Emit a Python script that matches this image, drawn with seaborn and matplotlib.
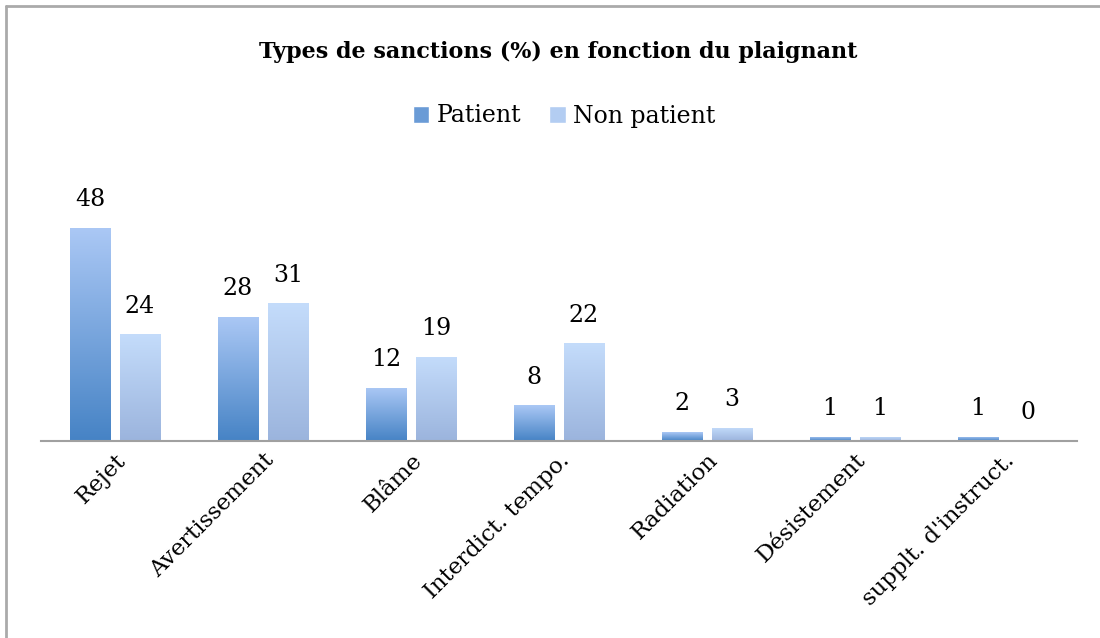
import numpy as np
import pandas as pd
import matplotlib
matplotlib.use("Agg")
import matplotlib.pyplot as plt
import seaborn as sns
from matplotlib.colors import LinearSegmentedColormap
from matplotlib.lines import Line2D
from matplotlib.patches import Patch

categories = ["Rejet", "Avertissement", "Blâme", "Interdict. tempo.",
              "Radiation", "Désistement", "supplt. d'instruct."]
patient = [48, 28, 12, 8, 2, 1, 1]
non_patient = [24, 31, 19, 22, 3, 1, 0]
series = ["Patient", "Non patient"]

df = pd.DataFrame({
    "type": categories * 2,
    "valeur": patient + non_patient,
    "plaignant": [series[0]] * len(categories) + [series[1]] * len(categories),
})

sns.set_style("white")
plt.rcParams["font.family"] = ["DejaVu Serif"]
plt.rcParams["text.color"] = "black"
plt.rcParams["xtick.color"] = "black"

# gradient colours (bottom, top) for each series
grads = [("#4683c5", "#abc8f5"), ("#9bb4dd", "#c4dcfb")]

fig = plt.figure(figsize=(11, 6.38), dpi=100)
ax = fig.add_axes([41 / 1100, 197 / 638, 1036 / 1100, 222 / 638])
sns.barplot(data=df, x="type", y="valeur", hue="plaignant",
            palette=["#6a9bd6", "#b3cdf2"], width=0.676, gap=0.2,
            errorbar=None, legend=False, ax=ax)

for cont, (c0, c1) in zip(ax.containers, grads):
    cmap = LinearSegmentedColormap.from_list("g", [c0, c1])
    for bar in cont:
        h = bar.get_height()
        if h <= 0:
            continue
        x0, w = bar.get_x(), bar.get_width()
        im = ax.imshow(np.linspace(0, 1, 256).reshape(-1, 1), cmap=cmap,
                       extent=[x0, x0 + w, 0, h], origin="lower",
                       aspect="auto", zorder=bar.get_zorder() + 0.1)
        im.set_clip_path(bar)
    ax.bar_label(cont, fmt="%d", padding=12, fontsize=17, color="black")

ax.set_xlim(-0.5, len(categories) - 0.5)
ax.set_ylim(0, 50)
ax.set_xlabel("")
ax.set_ylabel("")
ax.set_yticks([])
for s in ["top", "right", "left"]:
    ax.spines[s].set_visible(False)
ax.spines["bottom"].set_color("#a0a0a0")
ax.spines["bottom"].set_linewidth(1.5)
ax.tick_params(axis="x", length=0, pad=6, labelcolor="black")
plt.setp(ax.get_xticklabels(), rotation=45, ha="right",
         rotation_mode="anchor", fontsize=16.5)

fig.text(558 / 1100, 1 - 52 / 638, "Types de sanctions (%) en fonction du plaignant",
         ha="center", va="center", fontsize=16, fontweight="bold", color="black")

handles = [Patch(facecolor="#6a9bd6"), Patch(facecolor="#b3cdf2")]
fig.legend(handles, series, loc="center", bbox_to_anchor=(564 / 1100, 1 - 116 / 638),
           ncol=2, frameon=False, fontsize=17, handlelength=0.7, handleheight=0.7,
           handletextpad=0.3, columnspacing=1.2, labelcolor="black")

# chart frame (only top and left edges are visible in the original)
fig.add_artist(Line2D([6 / 1100, 1], [1 - 6 / 638] * 2, transform=fig.transFigure,
                      color="#aaaaaa", lw=2))
fig.add_artist(Line2D([6 / 1100] * 2, [0, 1 - 6 / 638], transform=fig.transFigure,
                      color="#aaaaaa", lw=2))

fig.savefig("out.png", dpi=100)
